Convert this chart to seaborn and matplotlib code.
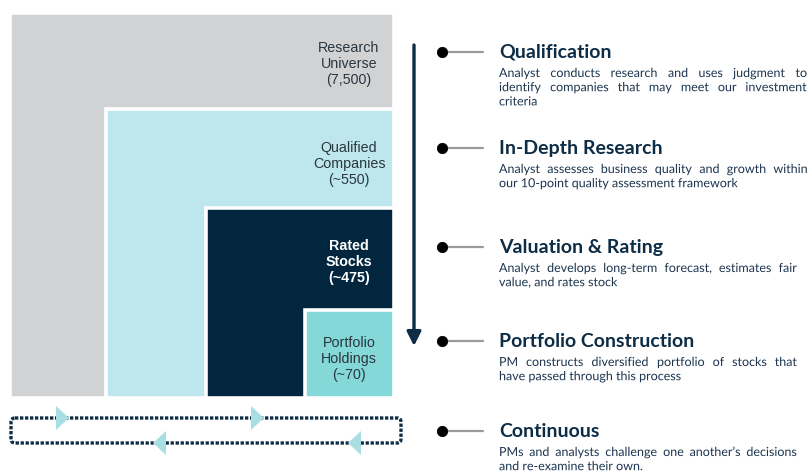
import matplotlib
matplotlib.use("Agg")
import matplotlib.pyplot as plt
import matplotlib.patheffects as pe
import seaborn as sns
from matplotlib.patches import Rectangle, FancyBboxPatch, Polygon

# data
funnel_names = ["Research", "Qualified", "Rated", "Portfolio"]
funnel_subs = ["Universe", "Companies", "Stocks", "Holdings"]
funnel_counts = ["(7,500)", "(~550)", "(~475)", "(~70)"]
funnel_colors = ["#d1d2d4", "#bde7ec", "#03263f", "#84d8d8"]
funnel_text_colors = ["#2b3640", "#2b3640", "#ffffff", "#2b3640"]

step_titles = ["Qualification", "In-Depth Research", "Valuation & Rating",
               "Portfolio Construction", "Continuous"]
step_lines = [
    ["Analyst conducts research and uses judgment to",
     "identify companies that may meet our investment",
     "criteria"],
    ["Analyst assesses business quality and growth within",
     "our 10-point quality assessment framework"],
    ["Analyst develops long-term forecast, estimates fair",
     "value, and rates stock"],
    ["PM constructs diversified portfolio of stocks that",
     "have passed through this process"],
    ["PMs and analysts challenge one another\u2019s decisions",
     "and re-examine their own."],
]

# layout (pixels)
box_left = [10, 106, 206, 305]
box_top = [13, 109, 208, 310]
box_right, box_bottom = 394, 398
label_y = [64, 164, 262, 359]
step_y = [52, 148, 247, 341, 431]
step_right = [807, 808, 797, 797, 797]

navy = "#0d2c45"

sns.set_theme(style="white")
plt.rcParams["font.family"] = ["Lato", "DejaVu Sans"]

fig = plt.figure(figsize=(8.11, 4.73), dpi=100)
ax = fig.add_axes([0, 0, 1, 1])

# nested boxes
for i in range(len(funnel_names)):
    ax.add_patch(Rectangle((box_left[i], box_top[i]), box_right - box_left[i],
                           box_bottom - box_top[i], facecolor=funnel_colors[i],
                           edgecolor="white", lw=2.6))
    ax.text(349, label_y[i], f"{funnel_names[i]}\n{funnel_subs[i]}\n{funnel_counts[i]}",
            ha="center", va="center", fontsize=10.3, linespacing=1.18,
            family=["Liberation Sans", "DejaVu Sans"],
            color=funnel_text_colors[i],
            fontweight="bold" if i == 2 else "normal")

# downward process arrow
ax.annotate("", xy=(414, 346), xytext=(414, 45),
            arrowprops=dict(arrowstyle="-|>,head_width=0.35,head_length=0.7",
                            color=navy, lw=2.4, shrinkA=0, shrinkB=0))

# continuous loop
ax.add_patch(FancyBboxPatch((11, 418), 390, 25,
                            boxstyle="round,pad=0,rounding_size=4",
                            fill=False, edgecolor=navy, lw=2.4,
                            linestyle=(0, (1.0, 0.5))))
for x, d in [(62, 1), (257, 1), (160, -1), (355, -1)]:
    yc = 418 if d == 1 else 443
    ax.add_patch(Polygon([(x - 6 * d, yc - 12), (x - 6 * d, yc + 12), (x + 7 * d, yc)],
                         closed=True, facecolor="#a9dfe3", edgecolor="none", zorder=3))

# bullets
sns.scatterplot(x=[442] * len(step_y), y=step_y, ax=ax, s=55, color="black",
                edgecolor="black", zorder=4, legend=False)
for y in step_y:
    ax.plot([442, 483], [y, y], color="#9a9a9a", lw=1.6, zorder=3)

ax.set_xlim(0, 811)
ax.set_ylim(473, 0)
ax.axis("off")

fig.canvas.draw()
renderer = fig.canvas.get_renderer()


def justified(x, y, right, lines, lh=14.2, **kw):
    # baseline-aligned, justified except for the last line
    # drawn as paths so single words don't get snapped to different pixel rows
    kw["path_effects"] = [pe.Normal()]
    for i, line in enumerate(lines):
        yy = y + i * lh
        if i == len(lines) - 1:
            ax.text(x, yy, line, ha="left", va="baseline", **kw)
            continue
        words = line.split()
        texts = [ax.text(0, yy, w, ha="left", va="baseline", **kw) for w in words]
        widths = [t.get_window_extent(renderer).width for t in texts]
        gap = (right - x - sum(widths)) / (len(words) - 1)
        cx = x
        for t, w in zip(texts, widths):
            t.set_x(cx)
            cx += w + gap


for i, title in enumerate(step_titles):
    ax.text(499, step_y[i], title, ha="left", va="center", fontsize=14,
            fontweight="bold", color=navy)
    justified(499, step_y[i] + 25, step_right[i], step_lines[i],
              fontsize=9, color="#1d3550")

fig.savefig("out.png", dpi=100)
